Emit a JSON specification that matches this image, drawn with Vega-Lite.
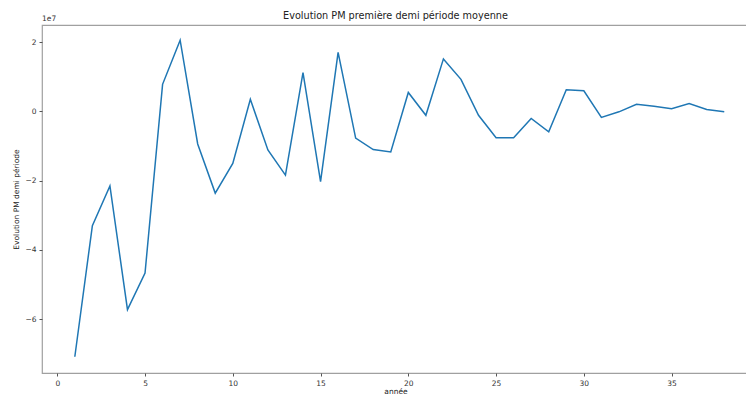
{
  "$schema": "https://vega.github.io/schema/vega-lite/v6.json",
  "width": 707,
  "height": 348,
  "autosize": {"type": "none"},
  "padding": {"left": 42, "top": 25, "right": 0, "bottom": 23},
  "background": "white",
  "config": {
    "font": "DejaVu Sans",
    "view": {"stroke": "#a0a0a0", "strokeWidth": 1.2},
    "axis": {
      "grid": false,
      "domain": false,
      "tickColor": "#555",
      "tickSize": 3,
      "labelFont": "DejaVu Sans",
      "labelFontSize": 7.5,
      "labelColor": "#333",
      "titleFont": "DejaVu Sans",
      "titleFontSize": 7.5,
      "titleFontWeight": "normal",
      "titleColor": "#222"
    }
  },
  "title": {
    "text": "Evolution PM première demi période moyenne",
    "font": "DejaVu Sans",
    "fontSize": 9.7,
    "fontWeight": "normal",
    "color": "#222",
    "anchor": "middle",
    "frame": "group",
    "offset": -6
  },
  "data": {
    "values": [
      {"annee": 1, "evolution": -70900000},
      {"annee": 2, "evolution": -33000000},
      {"annee": 3, "evolution": -21500000},
      {"annee": 4, "evolution": -57300000},
      {"annee": 5, "evolution": -46700000},
      {"annee": 6, "evolution": 7850000},
      {"annee": 7, "evolution": 20600000},
      {"annee": 8, "evolution": -9400000},
      {"annee": 9, "evolution": -23600000},
      {"annee": 10, "evolution": -15000000},
      {"annee": 11, "evolution": 3500000},
      {"annee": 12, "evolution": -11100000},
      {"annee": 13, "evolution": -18400000},
      {"annee": 14, "evolution": 11200000},
      {"annee": 15, "evolution": -20300000},
      {"annee": 16, "evolution": 17100000},
      {"annee": 17, "evolution": -7700000},
      {"annee": 18, "evolution": -11000000},
      {"annee": 19, "evolution": -11700000},
      {"annee": 20, "evolution": 5500000},
      {"annee": 21, "evolution": -1100000},
      {"annee": 22, "evolution": 15200000},
      {"annee": 23, "evolution": 9300000},
      {"annee": 24, "evolution": -1100000},
      {"annee": 25, "evolution": -7600000},
      {"annee": 26, "evolution": -7600000},
      {"annee": 27, "evolution": -2000000},
      {"annee": 28, "evolution": -5900000},
      {"annee": 29, "evolution": 6300000},
      {"annee": 30, "evolution": 6000000},
      {"annee": 31, "evolution": -1700000},
      {"annee": 32, "evolution": -100000},
      {"annee": 33, "evolution": 2100000},
      {"annee": 34, "evolution": 1500000},
      {"annee": 35, "evolution": 800000},
      {"annee": 36, "evolution": 2300000},
      {"annee": 37, "evolution": 600000},
      {"annee": 38, "evolution": -100000}
    ]
  },
  "layer": [
    {
      "mark": {"type": "line", "color": "#1f77b4", "strokeWidth": 1.5, "clip": true},
      "encoding": {
        "x": {
          "field": "annee",
          "type": "quantitative",
          "title": "année",
          "scale": {"domain": [-0.87, 39.41], "nice": false, "zero": false},
          "axis": {"values": [0, 5, 10, 15, 20, 25, 30, 35], "labelPadding": 3, "titlePadding": 1}
        },
        "y": {
          "field": "evolution",
          "type": "quantitative",
          "title": "Evolution PM demi période",
          "scale": {"domain": [-75600000, 25000000], "nice": false, "zero": false},
          "axis": {
            "values": [-60000000, -40000000, -20000000, 0, 20000000],
            "labelExpr": "replace(format(datum.value / 10000000, 'd'), '-', '−')",
            "labelPadding": 3,
            "titlePadding": 4
          }
        }
      }
    },
    {
      "data": {"values": [{"exposant": "1e7"}]},
      "mark": {"type": "text", "align": "left", "baseline": "bottom", "dy": -2, "fontSize": 7.5, "font": "DejaVu Sans", "color": "#333"},
      "encoding": {
        "text": {"field": "exposant"},
        "x": {"datum": -0.87, "type": "quantitative"},
        "y": {"datum": 25000000, "type": "quantitative"}
      }
    }
  ]
}
